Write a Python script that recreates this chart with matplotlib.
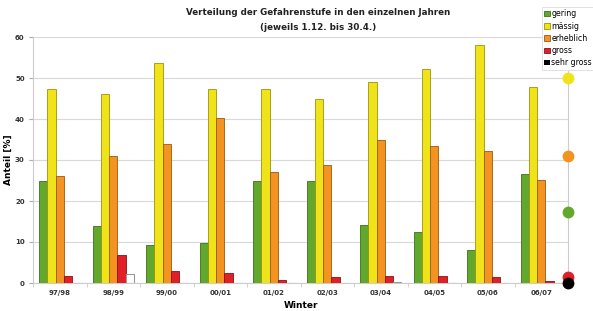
import numpy as np
import matplotlib.pyplot as plt

winters = ["97/98", "98/99", "99/00", "00/01", "01/02",
           "02/03", "03/04", "04/05", "05/06", "06/07"]
gering = [25.0, 14.0, 9.3, 9.8, 24.9, 24.8, 14.2, 12.5, 8.1, 26.7]
maessig = [47.4, 46.1, 53.7, 47.4, 47.4, 45.0, 49.0, 52.3, 58.0, 47.8]
erheblich = [26.0, 30.9, 34.0, 40.3, 27.0, 28.9, 34.9, 33.5, 32.3, 25.2]
gross = [1.6, 6.9, 3.0, 2.4, 0.8, 1.4, 1.6, 1.8, 1.5, 0.5]
sehr_gross = [0.0, 2.2, 0.1, 0.0, 0.0, 0.0, 0.2, 0.0, 0.0, 0.0]

# average values shown as dots on the right edge
mittel = [17.2, 50.0, 31.0, 1.4, 0.0]

names = ["gering", "mässig", "erheblich", "gross", "sehr gross"]
colors = ["#62a82c", "#f0e31a", "#f39421", "#e01f26", "#000000"]
edges = ["#3f6e1c", "#9c9210", "#9a5a14", "#8a1216", "#888888"]
series = [gering, maessig, erheblich, gross, sehr_gross]

fig = plt.figure(figsize=(5.93, 3.11), dpi=100)
ax = fig.add_axes([33 / 593, 28 / 311, 535 / 593, 246 / 311])

x = np.arange(len(winters))
w = 0.155
for i, vals in enumerate(series):
    pos = x + (i - 2) * w
    if i == 4:
        ax.bar(pos, vals, w, color="white", edgecolor="#999999", linewidth=0.8, zorder=3)
        ax.bar([0], [0], 0, color=colors[i], label=names[i])
    else:
        ax.bar(pos, vals, w, color=colors[i], edgecolor=edges[i], linewidth=0.6,
               label=names[i], zorder=3)

# dots on the right axis line
for i in [1, 2, 0, 3, 4]:
    ax.plot(9.5, mittel[i], "o", color=colors[i], markersize=7.5, clip_on=False, zorder=5)

ax.set_xlim(-0.5, 9.5)
ax.set_ylim(0, 60)
ax.set_yticks(range(0, 61, 10))
ax.set_xticks(x)
ax.set_xticklabels(winters)
ax.set_xticks(np.arange(-0.5, 9.6, 1), minor=True)
ax.tick_params(axis="x", which="major", length=0, labelsize=5, pad=5)
ax.tick_params(axis="x", which="minor", length=3, color="#cccccc")
ax.tick_params(axis="y", length=3, color="#aaaaaa", labelsize=5, pad=3)
for lab in ax.get_xticklabels() + ax.get_yticklabels():
    lab.set_fontweight("bold")
    lab.set_color("#333333")

ax.grid(axis="y", color="#d8d8d8", linewidth=0.8, zorder=0)
for s in ["left", "right", "bottom"]:
    ax.spines[s].set_color("#cccccc")
ax.spines["top"].set_visible(False)

ax.set_ylabel("Anteil [%]", fontsize=6.5, fontweight="bold")
ax.yaxis.set_label_coords(-20 / 535, 0.5)
ax.set_xlabel("Winter", fontsize=6.5, fontweight="bold", labelpad=4)

fig.text(318 / 593, 1 - 20 / 311, "Verteilung der Gefahrenstufe in den einzelnen Jahren\n(jeweils 1.12. bis 30.4.)",
         ha="center", va="center", fontsize=6.3, fontweight="bold", color="#222222", linespacing=1.8)

leg = fig.legend(loc="upper left", bbox_to_anchor=(542 / 593, 1 - 7 / 311), fontsize=5.6,
                 handlelength=0.7, handleheight=0.7, handletextpad=0.2, labelspacing=0.42,
                 borderpad=0.3, borderaxespad=0, fancybox=False, framealpha=1)
leg.get_frame().set_edgecolor("#dddddd")
leg.get_frame().set_linewidth(0.6)
leg.set_zorder(1)

fig.savefig("out.png", dpi=100)
